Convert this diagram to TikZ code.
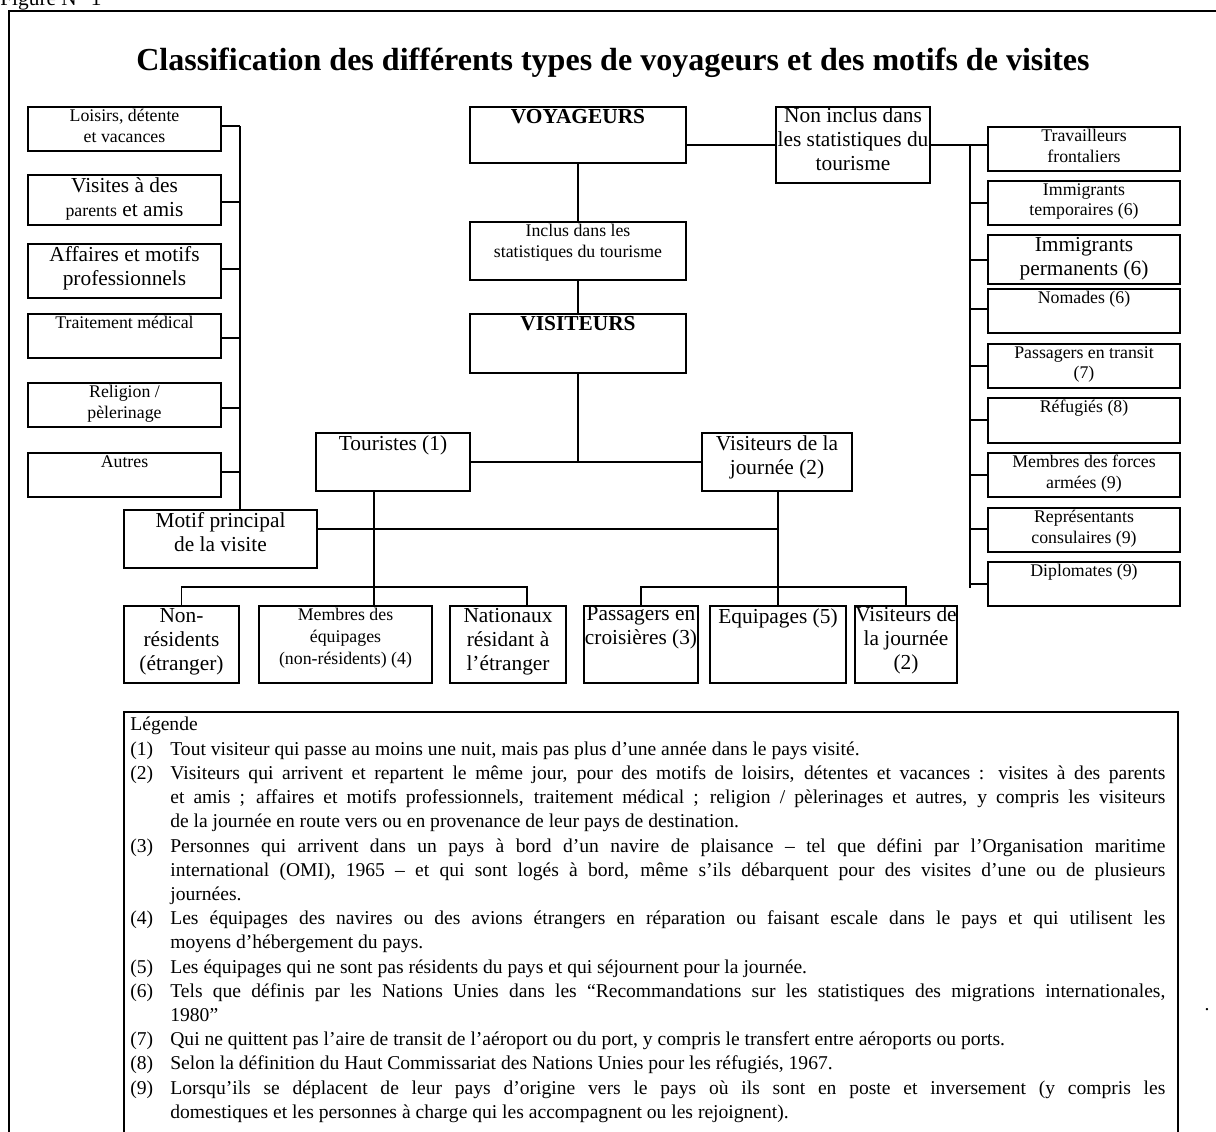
\documentclass[tikz,border=0pt]{standalone}
\usepackage{fontspec}
\setmainfont{Liberation Serif}
\newdimen\pxu \pxu=0.5618pt
\tikzset{
 box/.style={draw, line width=0.8pt, inner sep=0pt},
 btxt/.style={anchor=north, align=center, inner sep=1.5pt},
 conn/.style={line width=0.8pt},
 fA/.style={font=\fontsize{10}{11.5}\selectfont},
 fB/.style={font=\fontsize{12}{13.5}\selectfont},
 fBB/.style={font=\bfseries\fontsize{12}{13.5}\selectfont},
}
\newcommand\bx[7]{%
 \node[box, minimum width={(#4-#2)*\pxu}, minimum height={(#5-#3)*\pxu}] (#1) at ({(#2+#4)/2},{(#3+#5)/2}) {};
 \node[btxt,#6] (#1t) at (#1.north) {#7};}
\newcommand\legitem[2]{\par\noindent\hangindent=40\pxu\hangafter=1\makebox[40\pxu][l]{#1}#2}
\begin{document}
\begin{tikzpicture}[x=0.5618pt,y=-0.5618pt]
\useasboundingbox (0,0) rectangle (1216,1131);
\clip (0,0) rectangle (1216,1131);
\node[anchor=base west, inner sep=0pt, font=\fontsize{12}{14}\selectfont] (fig) at (0,5) {Figure N° 1};
\draw[conn] (9,1140) -- (9,11) -- (1230,11);
\node[anchor=base, inner sep=0pt, font=\bfseries\fontsize{18}{22}\selectfont] (title) at (613,70) {Classification des différents types de voyageurs et des motifs de visites};
% left column
\bx{L1}{28}{107}{221}{151}{fA}{Loisirs, détente\\et vacances}
\bx{L2}{28}{175}{221}{225}{fB}{Visites à des\\{\fontsize{10}{12}\selectfont parents} et amis}
\bx{L3}{28}{244}{221}{298}{fB}{Affaires et motifs\\professionnels}
\bx{L4}{28}{314}{221}{358}{fA}{Traitement médical}
\bx{L5}{28}{383}{221}{427}{fA}{Religion /\\pèlerinage}
\bx{L6}{28}{453}{221}{497}{fA}{Autres}
\bx{MOT}{124}{510}{317}{568}{fB}{Motif principal\\de la visite}
% centre
\bx{VOY}{470}{107}{686}{163}{fBB}{VOYAGEURS}
\bx{INC}{470}{222}{686}{280}{fA}{Inclus dans les\\statistiques du tourisme}
\bx{VIS}{470}{314}{686}{373}{fBB}{VISITEURS}
\bx{NI}{776}{107}{930}{183}{fB,inner sep=0.5pt}{Non inclus dans\\les statistiques du\\tourisme}
\bx{TOU}{316}{433}{470}{491}{fB}{Touristes (1)}
\bx{VJ}{702}{433}{852}{491}{fB}{Visiteurs de la\\journée (2)}
% bottom row
\bx{B1}{124}{606}{239}{683}{fB}{Non-\\résidents\\(étranger)}
\bx{B2}{259}{606}{432}{683}{fA,font=\fontsize{10}{12.2}\selectfont}{Membres des\\équipages\\(non-résidents) (4)}
\bx{B3}{450}{606}{566}{683}{fB}{Nationaux\\résidant à\\l’étranger}
\bx{B4}{584}{606}{698}{683}{fB,inner sep=0.5pt}{Passagers en\\croisières (3)}
\bx{B5}{710}{606}{846}{683}{fB}{Equipages (5)}
\bx{B6}{855}{606}{957}{683}{fB,inner sep=0.5pt}{Visiteurs de\\la journée\\(2)}
% right column
\bx{R1}{988}{127}{1180}{171}{fA}{Travailleurs\\frontaliers}
\bx{R2}{988}{181}{1180}{225}{fA}{Immigrants\\temporaires (6)}
\bx{R3}{988}{235}{1180}{284}{fB}{Immigrants\\permanents (6)}
\bx{R4}{988}{289}{1180}{333}{fA}{Nomades (6)}
\bx{R5}{988}{344}{1180}{388}{fA}{Passagers en transit\\(7)}
\bx{R6}{988}{398}{1180}{443}{fA}{Réfugiés (8)}
\bx{R7}{988}{453}{1180}{497}{fA}{Membres des forces\\armées (9)}
\bx{R8}{988}{508}{1180}{552}{fA}{Représentants\\consulaires (9)}
\bx{R9}{988}{562}{1180}{606}{fA}{Diplomates (9)}
% left connectors
\foreach \n/\yy in {L1/126,L2/202,L3/269,L4/338,L5/408,L6/472}{
 \coordinate (c\n) at (240,\yy);
 \draw[conn] (c\n -| \n.east) -- (c\n);}
\draw[conn] (cL1) -- (cL1 |- MOT.north);
\coordinate (m) at (778,529);
\draw[conn] (m -| MOT.east) -- (m);
% centre connectors
\draw[conn] (VOY) -- (INC);
\draw[conn] (INC) -- (VIS);
\draw[conn] (VIS.south) -- (VIS.south |- TOU.east);
\draw[conn] (TOU) -- (VJ);
\coordinate (t1) at (374,587);
\draw[conn] (t1 |- TOU.south) -- (t1 |- B2.north);
\coordinate (t3) at (527,587);
\draw[conn] (B1.north) |- (t3) -- (t3 |- B3.north);
\coordinate (v) at (778,587);
\draw[conn] (v |- VJ.south) -- (v |- B5.north);
\draw[conn] (B4.north) |- (v) -| (B6.north);
% right connectors
\coordinate (r0) at (970,145);
\coordinate (rEnd) at (970,588);
\draw[conn] (r0 -| VOY.east) -- (r0 -| NI.west);
\draw[conn] (r0 -| NI.east) -- (r0 -| R1.west);
\draw[conn] (r0) -- (rEnd);
\foreach \n/\yy in {R2/203,R3/260,R4/309,R5/366,R6/420,R7/475,R8/529,R9/584}{
 \coordinate (c\n) at (970,\yy);
 \draw[conn] (c\n) -- (c\n -| \n.west);}
% legend
\draw[conn] (124,1140) -- (124,712) -- (1178,712) -- (1178,1140);
\node[anchor=north west, inner sep=0pt, text width=1035\pxu, align=justify, font=\fontsize{11}{13.6}\selectfont] (leg) at (130,717) {\tolerance=10000\noindent Légende
\legitem{(1)}{Tout visiteur qui passe au moins une nuit, mais pas plus d’une année dans le pays visité.}
\legitem{(2)}{Visiteurs qui arrivent et repartent le même jour, pour des motifs de loisirs, détentes et vacances : visites à des parents\linebreak et amis ; affaires et motifs professionnels, traitement médical ; religion / pèlerinages et autres, y compris les visiteurs\linebreak de la journée en route vers ou en provenance de leur pays de destination.}
\legitem{(3)}{Personnes qui arrivent dans un pays à bord d’un navire de plaisance – tel que défini par l’Organisation maritime\linebreak international (OMI), 1965 – et qui sont logés à bord, même s’ils débarquent pour des visites d’une ou de plusieurs\linebreak journées.}
\legitem{(4)}{Les équipages des navires ou des avions étrangers en réparation ou faisant escale dans le pays et qui utilisent les\linebreak moyens d’hébergement du pays.}
\legitem{(5)}{Les équipages qui ne sont pas résidents du pays et qui séjournent pour la journée.}
\legitem{(6)}{Tels que définis par les Nations Unies dans les “Recommandations sur les statistiques des migrations internationales,\linebreak 1980”}
\legitem{(7)}{Qui ne quittent pas l’aire de transit de l’aéroport ou du port, y compris le transfert entre aéroports ou ports.}
\legitem{(8)}{Selon la définition du Haut Commissariat des Nations Unies pour les réfugiés, 1967.}
\legitem{(9)}{Lorsqu’ils se déplacent de leur pays d’origine vers le pays où ils sont en poste et inversement (y compris les\linebreak domestiques et les personnes à charge qui les accompagnent ou les rejoignent).}\par};
\node[font=\fontsize{11}{13}\selectfont, inner sep=0pt] (dot) at (1207,1010) {.};
\end{tikzpicture}
\end{document}
